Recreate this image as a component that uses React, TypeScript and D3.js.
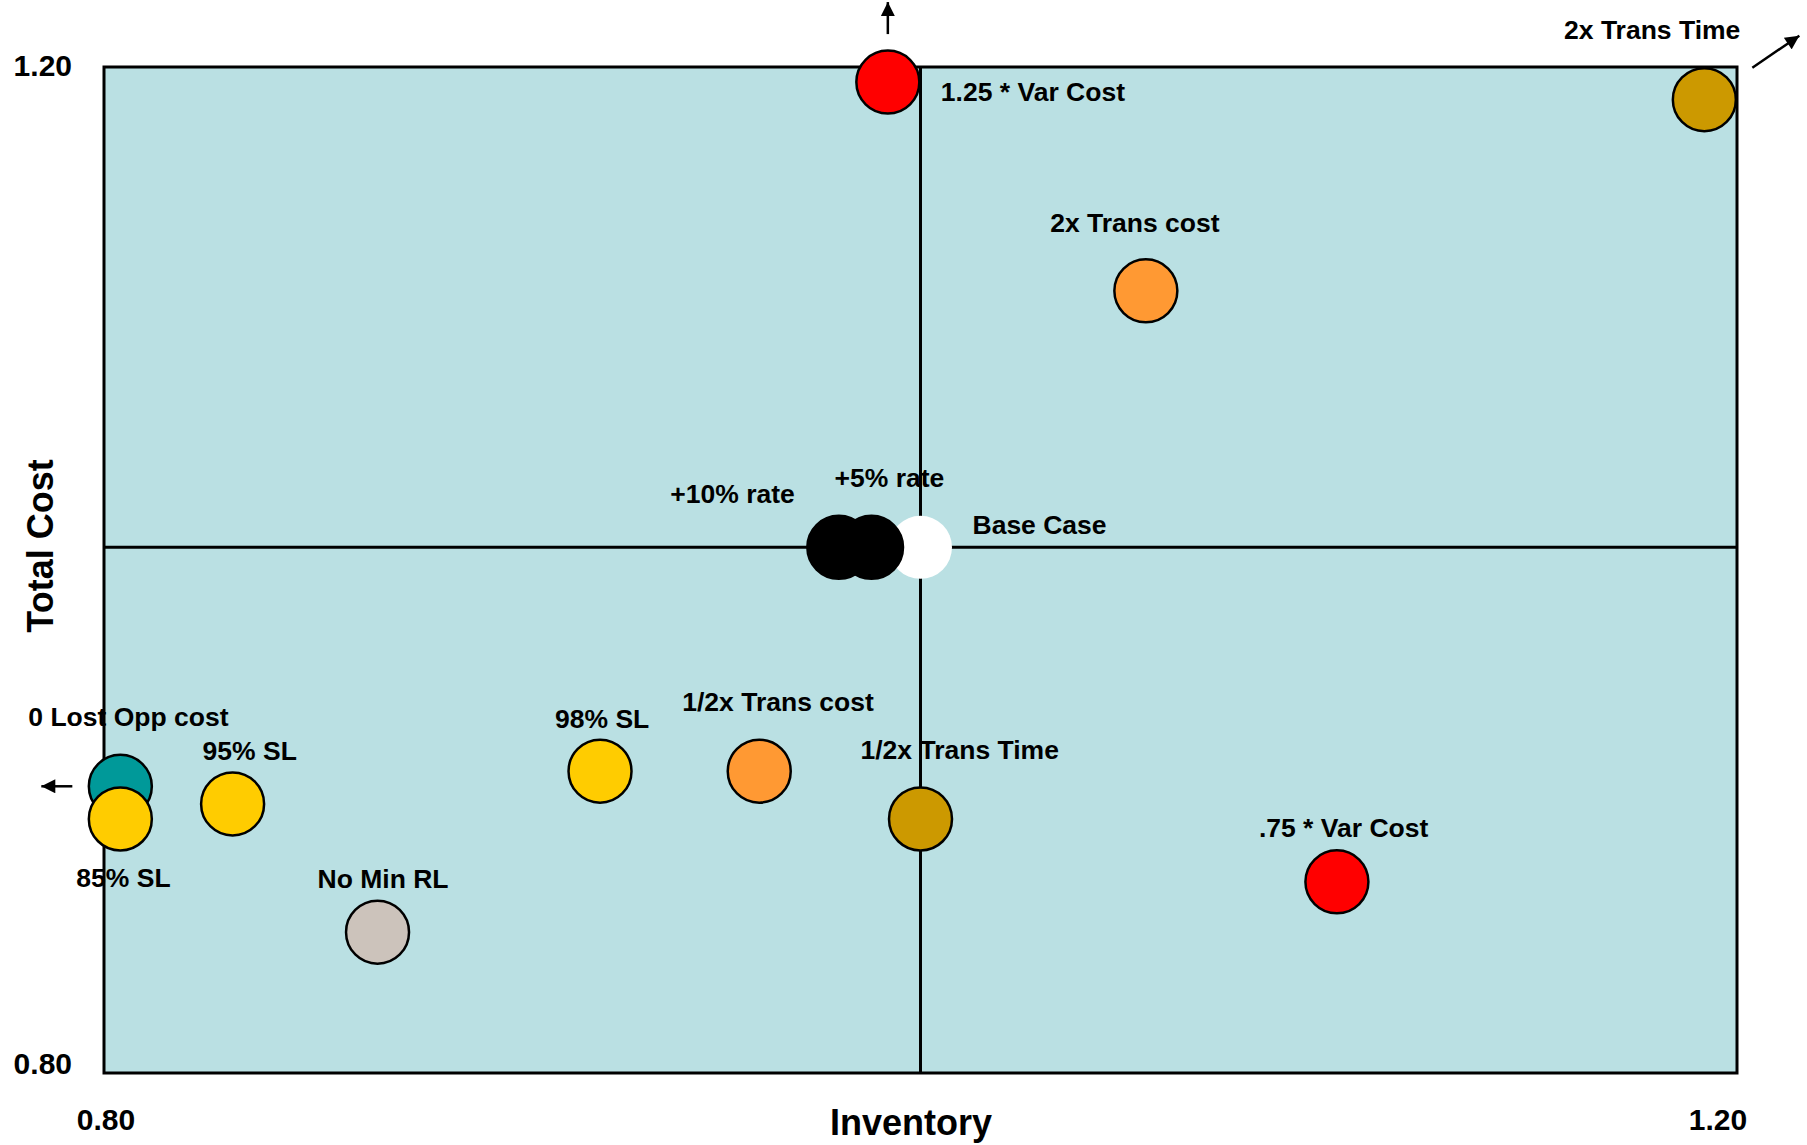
import React from "react";
import * as d3 from "d3";

// ---- data ----
const names = [
  "0 Lost Opp cost",
  "85% SL",
  "95% SL",
  "No Min RL",
  "98% SL",
  "1/2x Trans cost",
  "1/2x Trans Time",
  ".75 * Var Cost",
  "Base Case",
  "+10% rate",
  "+5% rate",
  "2x Trans cost",
  "1.25 * Var Cost",
  "2x Trans Time",
];
const inventory = [0.804, 0.804, 0.8315, 0.867, 0.9215, 0.9605, 1.0, 1.102, 1.0, 0.98, 0.988, 1.0552, 0.992, 1.192];
const totalCost = [0.914, 0.901, 0.907, 0.856, 0.92, 0.92, 0.901, 0.876, 1.009, 1.009, 1.009, 1.111, 1.194, 1.187];
const fills = ["#009999", "#FFCC00", "#FFCC00", "#CCC3BB", "#FFCC00", "#FF9933", "#CC9900", "#FF0000", "#FFFFFF", "#000000", "#000000", "#FF9933", "#FF0000", "#CC9900"];
const xTicks = [0.8, 1.2];
const yTicks = [0.8, 1.2];
const baseIndex = 8;

// ---- layout (label offsets relative to point) ----
const labelLayout: Record<string, { dx: number; dy: number; anchor: string }> = {
  "0 Lost Opp cost": { dx: -92, dy: -60, anchor: "start" },
  "85% SL": { dx: -44, dy: 68, anchor: "start" },
  "95% SL": { dx: -30, dy: -44, anchor: "start" },
  "No Min RL": { dx: -60, dy: -44, anchor: "start" },
  "98% SL": { dx: -45, dy: -43, anchor: "start" },
  "1/2x Trans cost": { dx: -77, dy: -60, anchor: "start" },
  "1/2x Trans Time": { dx: -60, dy: -60, anchor: "start" },
  ".75 * Var Cost": { dx: -78, dy: -45, anchor: "start" },
  "Base Case": { dx: 52, dy: -13, anchor: "start" },
  "+10% rate": { dx: -44, dy: -44, anchor: "end" },
  "+5% rate": { dx: -37, dy: -60, anchor: "start" },
  "2x Trans cost": { dx: -11, dy: -59, anchor: "middle" },
  "1.25 * Var Cost": { dx: 53, dy: 19, anchor: "start" },
  "2x Trans Time": { dx: 36, dy: -61, anchor: "end" },
};
const arrowLayout: Record<string, [number, number, number, number]> = {
  "1.25 * Var Cost": [0, -48, 0, -80],
  "2x Trans Time": [48, -32, 95, -64],
  "0 Lost Opp cost": [-48, 0, -79, 0],
};

const W = 1807;
const H = 1145;
const left = 104, right = 1737, top = 67, bottom = 1073;
const R = 31.5;
const font = "'Liberation Sans', Arial, Helvetica, sans-serif";

export default function App() {
  const x = d3.scaleLinear().domain([0.8, 1.2]).range([left, right]);
  const y = d3.scaleLinear().domain([0.8, 1.2]).range([bottom, top]);
  const bx = x(inventory[baseIndex]);
  const by = y(totalCost[baseIndex]);
  return (
    <svg width={W} height={H} style={{ position: "absolute", left: 0, top: 0 }} fontFamily={font}>
      <defs>
        <marker id="ah" viewBox="0 0 10 10" refX="10" refY="5" markerWidth="16" markerHeight="14" markerUnits="userSpaceOnUse" orient="auto">
          <path d="M0,0 L10,5 L0,10 z" fill="#000" />
        </marker>
      </defs>
      <rect x={left} y={top} width={right - left} height={bottom - top} fill="#BAE0E3" stroke="#000" strokeWidth={3} />
      <line x1={bx} x2={bx} y1={top} y2={bottom} stroke="#000" strokeWidth={3} />
      <line x1={left} x2={right} y1={by} y2={by} stroke="#000" strokeWidth={3} />
      {names.map((n, i) => (
        <circle
          key={n}
          cx={x(inventory[i])}
          cy={y(totalCost[i])}
          r={R}
          fill={fills[i]}
          stroke={fills[i] === "#FFFFFF" ? "none" : "#000"}
          strokeWidth={2.5}
        />
      ))}
      {names.map((n, i) => {
        const l = labelLayout[n];
        return (
          <text key={"t" + n} x={x(inventory[i]) + l.dx} y={y(totalCost[i]) + l.dy} textAnchor={l.anchor} fontSize={26.5} fontWeight="bold" fill="#000">
            {n}
          </text>
        );
      })}
      {names.map((n, i) => {
        const a = arrowLayout[n];
        if (!a) return null;
        const px = x(inventory[i]);
        const py = y(totalCost[i]);
        return (
          <line key={"a" + n} x1={px + a[0]} y1={py + a[1]} x2={px + a[2]} y2={py + a[3]} stroke="#000" strokeWidth={2.5} markerEnd="url(#ah)" />
        );
      })}
      {yTicks.map((t) => (
        <text key={"y" + t} x={72} y={t === 1.2 ? 76 : 1074} textAnchor="end" fontSize={30} fontWeight="bold">
          {t.toFixed(2)}
        </text>
      ))}
      {xTicks.map((t) => (
        <text key={"x" + t} x={x(t) + (t === 0.8 ? 2 : -19)} y={1130} textAnchor="middle" fontSize={30} fontWeight="bold">
          {t.toFixed(2)}
        </text>
      ))}
      <text x={911} y={1135} textAnchor="middle" fontSize={36} fontWeight="bold">Inventory</text>
      <text transform="translate(53,546) rotate(-90)" textAnchor="middle" fontSize={36} fontWeight="bold">Total Cost</text>
    </svg>
  );
}
